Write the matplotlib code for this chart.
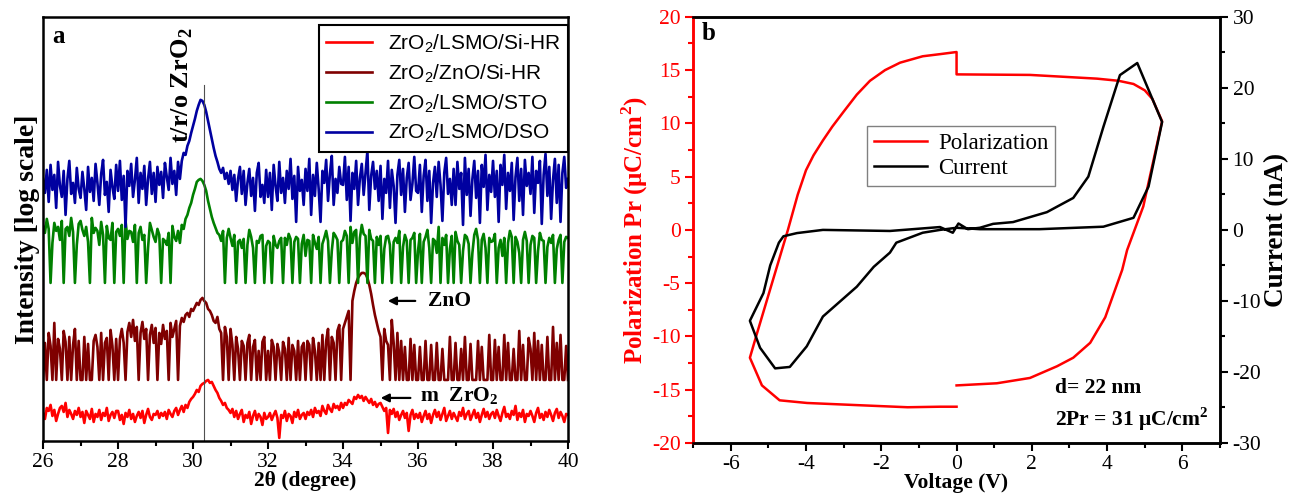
import numpy as np
import matplotlib
matplotlib.use("Agg")
import matplotlib.pyplot as plt

plt.rcParams['font.family'] = ['Liberation Serif', 'DejaVu Serif']
plt.rcParams['mathtext.fontset'] = 'custom'
plt.rcParams['mathtext.rm'] = 'Liberation Serif'
plt.rcParams['mathtext.bf'] = 'Liberation Serif:bold'
plt.rcParams['mathtext.sf'] = 'Liberation Sans'
plt.rcParams['axes.unicode_minus'] = False

# ---- panel a: XRD, log intensity (arbitrary units, stacked) ----
two_theta = np.round(np.arange(26.0, 40.001, 0.05), 2)

dso = [262, 248, 271, 239, 276, 251, 266, 233, 279, 255, 244, 270, 226, 262, 280, 247, 258, 238, 273, 252,
       243, 269, 252, 231, 274, 249, 263, 240, 277, 258, 236, 267, 281, 246, 259, 229, 271, 254, 242, 276,
       250, 280, 241, 265, 214, 270, 255, 277, 244, 261, 283, 238, 268, 252, 275, 236, 262, 279, 247, 268,
       239, 274, 256, 269, 243, 278, 264, 251, 283, 257, 270, 246, 279, 262, 280, 288, 286, 295, 300, 308,
       315, 322, 330, 336, 341, 340, 336, 329, 320, 311, 302, 293, 285, 279, 272, 268, 273, 262, 268, 257,
       270, 251, 266, 240, 262, 274, 247, 270, 236, 258, 272, 245, 263, 230, 268, 278, 244, 256, 238, 271,
       244, 268, 231, 276, 255, 240, 279, 248, 263, 238, 270, 252, 282, 242, 265, 219, 274, 250, 261, 236,
       272, 250, 282, 226, 266, 245, 278, 252, 219, 270, 258, 281, 240, 267, 285, 236, 262, 248, 274, 257,
       256, 284, 241, 274, 220, 268, 252, 280, 236, 263, 277, 246, 268, 290, 231, 265, 279, 252, 270, 240,
       275, 222, 262, 248, 280, 233, 271, 255, 218, 266, 281, 246, 272, 229, 263, 278, 241, 257, 284, 250,
       248, 276, 229, 265, 281, 240, 270, 218, 258, 274, 244, 279, 256, 220, 268, 283, 247, 262, 236, 272,
       236, 279, 252, 268, 216, 283, 246, 272, 225, 262, 280, 243, 270, 218, 276, 254, 286, 231, 266, 249,
       280, 244, 270, 219, 276, 256, 286, 232, 268, 250, 278, 221, 264, 283, 240, 272, 226, 281, 255, 268,
       247, 284, 228, 270, 258, 280, 217, 266, 287, 245, 274, 222, 261, 282, 238, 276, 219, 268, 284, 253,
       262]

sto = [215, 208, 222, 212, 158, 198, 218, 210, 214, 201, 220, 158, 212, 214, 205, 223, 209, 158, 196, 217,
       220, 211, 205, 214, 199, 158, 223, 208, 213, 210, 196, 219, 206, 158, 215, 203, 201, 218, 158, 209,
       212, 205, 216, 158, 220, 202, 210, 209, 199, 216, 158, 208, 214, 201, 206, 158, 193, 218, 211, 204,
       199, 212, 206, 158, 202, 200, 196, 208, 158, 215, 204, 200, 210, 198, 216, 212, 222, 226, 233, 238,
       246, 252, 259, 261, 262, 260, 256, 250, 240, 232, 224, 218, 213, 208, 206, 200, 210, 158, 203, 212,
       203, 195, 206, 158, 199, 201, 193, 202, 158, 196, 211, 204, 193, 158, 200, 198, 205, 206, 158, 195,
       200, 198, 158, 205, 196, 193, 200, 203, 158, 203, 196, 207, 202, 158, 199, 204, 202, 158, 197, 206,
       185, 201, 200, 158, 206, 198, 192, 204, 158, 197, 203, 210, 200, 158, 190, 208, 205, 201, 158, 199,
       201, 210, 205, 158, 214, 198, 209, 211, 158, 203, 216, 207, 205, 158, 211, 202, 200, 158, 204, 196,
       205, 158, 192, 204, 205, 196, 158, 199, 203, 198, 210, 158, 194, 206, 200, 158, 201, 203, 208, 158,
       190, 207, 158, 199, 204, 211, 193, 158, 202, 200, 188, 214, 158, 203, 196, 206, 158, 192, 205, 158,
       209, 200, 196, 158, 190, 206, 204, 197, 158, 188, 206, 212, 201, 158, 201, 207, 193, 158, 203, 199,
       200, 207, 158, 193, 201, 185, 203, 158, 198, 210, 204, 158, 204, 199, 188, 158, 201, 209, 200, 158,
       196, 205, 203, 158, 190, 208, 201, 200, 158, 194, 203, 198, 206, 158, 192, 201, 206, 158, 199, 204,
       203]

zno = [61, 98, 61, 108, 95, 61, 118, 61, 102, 92, 61, 110, 99, 61, 104, 61, 96, 112, 61, 100,
       61, 61, 104, 61, 97, 61, 61, 100, 106, 94, 61, 108, 61, 98, 103, 61, 111, 95, 61, 102,
       61, 102, 112, 98, 61, 109, 118, 104, 121, 100, 114, 61, 108, 119, 102, 112, 61, 106, 116, 98,
       113, 61, 108, 97, 116, 102, 110, 61, 118, 104, 112, 120, 61, 115, 123, 119, 126, 128, 124, 132,
       130, 134, 138, 136, 141, 143, 140, 138, 132, 130, 126, 120, 118, 124, 112, 108, 61, 114, 104, 61,
       112, 96, 61, 104, 92, 61, 100, 95, 61, 98, 106, 61, 94, 101, 61, 90, 61, 99, 104, 61,
       90, 61, 101, 94, 61, 97, 88, 61, 99, 92, 61, 103, 61, 96, 90, 61, 100, 61, 94, 98,
       61, 100, 96, 61, 103, 90, 61, 98, 61, 106, 61, 100, 112, 61, 104, 98, 61, 110, 116, 61,
       112, 118, 124, 130, 61, 140, 150, 158, 163, 166, 168, 168, 167, 163, 156, 147, 136, 126, 118, 110,
       104, 61, 112, 100, 96, 61, 121, 98, 61, 108, 61, 100, 61, 94, 61, 61, 102, 61, 96, 61,
       61, 94, 61, 61, 100, 61, 61, 96, 61, 61, 98, 61, 61, 92, 61, 61, 61, 104, 61, 61,
       98, 61, 61, 92, 61, 104, 61, 61, 97, 61, 61, 61, 100, 61, 94, 61, 61, 61, 106, 61,
       61, 101, 61, 94, 61, 61, 106, 61, 98, 61, 61, 92, 61, 61, 110, 61, 96, 61, 61, 103,
       92, 61, 108, 61, 100, 61, 96, 61, 61, 104, 61, 61, 114, 61, 98, 61, 106, 61, 61, 95,
       61]

sihr = [28, 22, 33, 30, 36, 25, 31, 20, 27, 33, 35, 29, 38, 24, 31, 27, 22, 30, 26, 33,
        24, 29, 18, 30, 26, 22, 32, 19, 27, 24, 31, 21, 28, 25, 33, 20, 26, 29, 23, 30,
        30, 21, 26, 17, 28, 24, 31, 22, 27, 19, 25, 29, 23, 30, 18, 26, 32, 24, 21, 27,
        26, 30, 23, 28, 25, 29, 22, 31, 27, 24, 30, 33, 26, 31, 35, 29, 36, 33, 39, 42,
        44, 47, 51, 49, 55, 57, 58, 60, 61, 58, 59, 55, 51, 48, 43, 40, 36, 38, 33, 31,
        28, 32, 24, 30, 22, 27, 31, 19, 26, 23, 29, 17, 25, 30, 21, 27, 24, 16, 28, 22,
        24, 28, 21, 26, 30, 23, 3, 26, 23, 30, 20, 27, 25, 18, 29, 24, 31, 22, 26, 28,
        22, 29, 26, 31, 24, 33, 28, 30, 25, 35, 30, 27, 36, 32, 29, 37, 33, 35, 31, 38,
        33, 38, 36, 41, 39, 37, 44, 42, 46, 43, 45, 40, 44, 41, 38, 42, 36, 39, 34, 37,
        38, 34, 30, 33, 8, 31, 27, 32, 24, 29, 21, 26, 30, 23, 28, 10, 26, 31, 22, 27,
        23, 28, 19, 25, 30, 22, 27, 18, 26, 31, 24, 29, 21, 27, 33, 20, 25, 30, 22, 28,
        24, 20, 29, 25, 33, 22, 27, 30, 21, 26, 31, 23, 28, 19, 26, 32, 24, 29, 22, 27,
        29, 23, 31, 25, 20, 28, 34, 24, 27, 22, 30, 26, 35, 21, 28, 24, 31, 19, 27, 25,
        30, 25, 19, 28, 33, 23, 27, 21, 29, 24, 31, 26, 20, 28, 32, 23, 29, 25, 19, 27,
        26]

labels_a = [r"ZrO$_\mathsf{2}$/LSMO/Si-HR", r"ZrO$_\mathsf{2}$/ZnO/Si-HR",
            r"ZrO$_\mathsf{2}$/LSMO/STO", r"ZrO$_\mathsf{2}$/LSMO/DSO"]
colors_a = ['#ff0000', '#7f0000', '#008000', '#0000a0']

# ---- panel b: P-V loop and current ----
pol_v = [0, -0.44, -1.3, -2.65, -3.97, -4.7, -5.17, -5.49, -5.3, -4.48, -4.22,
         -4.0, -3.8, -3.55, -3.3, -3.0, -2.65, -2.3, -1.9, -1.5, -0.9, -0.44, 0, 0,
         1.95, 3.73, 4.3, 4.7, 5.0, 5.2, 5.46, 4.96, 4.53, 4.4, 3.95, 3.55,
         3.1, 2.67, 1.95, 1.07, 0]
pol_p = [-16.6, -16.6, -16.65, -16.45, -16.25, -16.0, -14.6, -12.0, -9.7, 0.0, 3.3,
         5.6, 7.0, 8.4, 9.7, 11.1, 12.7, 14.0, 15.0, 15.7, 16.3, 16.5, 16.7, 14.6,
         14.55, 14.2, 14.0, 13.7, 13.1, 12.3, 10.2, 2.2, -1.9, -3.75, -8.2, -10.6,
         -12.0, -12.8, -13.9, -14.4, -14.6]

cur_v = [0, 0.62, 2.2, 3.9, 4.7, 5.1, 5.46, 4.8, 4.34, 3.9, 3.5, 3.1, 2.4,
         1.5, 0.97, 0.62, 0.3, 0.05, -0.1, -0.44, -1.77, -3.55, -4.24,
         -4.6, -4.72, -4.95, -5.13, -5.49, -5.22, -4.82, -4.43, -3.98,
         -3.55, -2.65, -2.2, -1.77, -1.6, -0.9, -0.44, 0]
cur_i = [0.3, 0.1, 0.1, 0.45, 1.7, 6.1, 15.2, 23.5, 21.8, 14.5, 7.5, 4.5, 2.5,
         1.1, 0.85, 0.3, 0.1, 0.9, -0.4, 0.4, -0.15, 0.0, -0.45,
         -0.9, -1.8, -5.0, -8.9, -12.8, -16.6, -19.5, -19.3, -16.4,
         -12.2, -8.0, -5.2, -3.2, -1.8, -0.4, 0.0, 0.3]

fig = plt.figure(figsize=(12.93, 4.96), dpi=100)

# panel a
ax = fig.add_axes([0.0333, 0.111, 0.406, 0.855])
for ys, c, lab in zip([sihr, zno, sto, dso], colors_a, labels_a):
    ax.plot(two_theta, ys, color=c, lw=1.9, label=lab)
ax.plot([30.3, 30.3], [0, 356], color='#505050', lw=0.8)
ax.set_xlim(26, 40)
ax.set_ylim(0, 424)
ax.set_yticks([])
ax.set_xticks(np.arange(26, 41, 2))
ax.set_xticks(np.arange(27, 40, 2), minor=True)
ax.tick_params(axis='x', which='major', direction='out', length=6, width=1.5,
               labelsize=15.5, pad=3)
ax.tick_params(axis='x', which='minor', direction='out', length=3.5, width=1.5)
for s in ax.spines.values():
    s.set_linewidth(1.8)
ax.set_xlabel(u"2\u03b8 (degree)", fontsize=15.5, fontweight='bold', labelpad=-1)
ax.set_ylabel("Intensity [log scale]", fontsize=20, fontweight='bold', labelpad=2)
ax.text(26.24, 416, "a", fontsize=18, fontweight='bold', va='top', ha='left')
ax.text(29.7, 298, r"t/r/o ZrO$_\mathbf{2}$", fontsize=19, fontweight='bold',
        rotation=90, ha='center', va='bottom')
ax.annotate("", xy=(35.12, 140), xytext=(36.0, 140),
            arrowprops=dict(arrowstyle='-|>', color='black', lw=1.6,
                            mutation_scale=12))
ax.text(36.27, 140, "ZnO", fontsize=15.5, fontweight='bold', va='center')
ax.annotate("", xy=(34.93, 43), xytext=(35.87, 43),
            arrowprops=dict(arrowstyle='-|>', color='black', lw=1.6,
                            mutation_scale=12))
ax.text(36.05, 45, r"m  ZrO$_\mathbf{2}$", fontsize=15.5, fontweight='bold', va='center')
leg = ax.legend(loc='upper right', bbox_to_anchor=(1.0, 0.981), borderaxespad=0,
                fancybox=False, edgecolor='black', framealpha=1,
                prop={'family': 'Liberation Sans', 'size': 15},
                handlelength=2.2, labelspacing=0.35, borderpad=0.35)
leg.get_frame().set_linewidth(1.5)

# panel b
bx = fig.add_axes([0.536, 0.107, 0.4076, 0.859])
bx.plot(pol_v, pol_p, color='#ff0000', lw=1.8, label='Polarization')
bx2 = bx.twinx()
bx2.plot(cur_v, cur_i, color='black', lw=1.8, label='Current')
bx.set_xlim(-7, 7)
bx.set_ylim(-20, 20)
bx2.set_ylim(-30, 30)
bx.set_xticks(np.arange(-6, 7, 2))
bx.set_xticks(np.arange(-7, 8, 1), minor=True)
bx.set_yticks(np.arange(-20, 21, 5))
bx.set_yticks(np.arange(-17.5, 20, 5), minor=True)
bx2.set_yticks(np.arange(-30, 31, 10))
bx2.set_yticks(np.arange(-25, 30, 10), minor=True)
bx.tick_params(axis='x', which='major', direction='out', length=6, width=1.5,
               labelsize=15.5, pad=3)
bx.tick_params(axis='x', which='minor', direction='out', length=3.5, width=1.5)
bx.tick_params(axis='y', which='major', direction='out', length=6, width=1.5,
               labelsize=15.5, colors='#ff0000', pad=3)
bx.tick_params(axis='y', which='minor', direction='out', length=3.5, width=1.5,
               colors='#ff0000')
bx2.tick_params(axis='y', which='major', direction='out', length=6, width=1.5,
                labelsize=15.5, pad=3)
bx2.tick_params(axis='y', which='minor', direction='out', length=3.5, width=1.5)
for a in (bx, bx2):
    for s in a.spines.values():
        s.set_linewidth(1.8)
bx2.spines['left'].set_color('#ff0000')
bx.spines['left'].set_color('#ff0000')
bx.set_xlabel("Voltage (V)", fontsize=15.5, fontweight='bold', labelpad=-1)
bx.set_ylabel(u"Polarization Pr (\u03bcC/cm$^\\mathbf{2}$)", fontsize=18,
              fontweight='bold', color='#ff0000', labelpad=1)
bx2.set_ylabel("Current (nA)", fontsize=19.5, fontweight='bold', labelpad=2)
bx.text(-6.78, 19.5, "b", fontsize=18, fontweight='bold', va='top', ha='left')
bx.text(2.62, -14.8, "d= 22 nm", fontsize=15.5, fontweight='bold', va='center')
bx.text(2.62, -17.8, u"2Pr = 31 \u03bcC/cm$^\\mathbf{2}$", fontsize=15.5,
        fontweight='bold', va='center')
h1, l1 = bx.get_legend_handles_labels()
h2, l2 = bx2.get_legend_handles_labels()
leg2 = bx2.legend(h1 + h2, l1 + l2, loc='upper left', bbox_to_anchor=(0.33, 0.744),
                  borderaxespad=0, fancybox=False, edgecolor='#808080',
                  framealpha=1, prop={'size': 16.5}, handlelength=2.3,
                  labelspacing=0.2, borderpad=0.3, handletextpad=0.5)
leg2.get_frame().set_linewidth(1.0)

fig.savefig("out.png", dpi=100)
